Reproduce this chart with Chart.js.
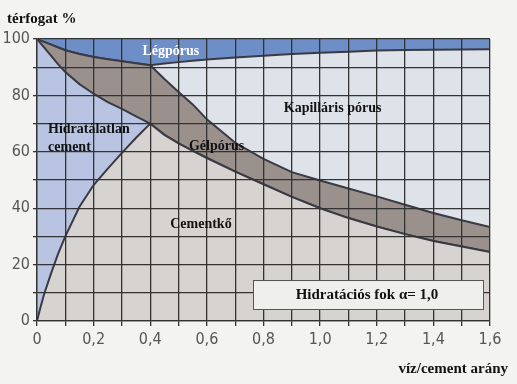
<!DOCTYPE html>
<html>
<head>
<meta charset="utf-8">
<script src="https://cdn.jsdelivr.net/npm/chart.js@4/dist/chart.umd.min.js"></script>
<style>
  html, body { margin: 0; padding: 0; background: #f3f3f1; }
  #wrap { width: 517px; height: 384px; }
</style>
</head>
<body>
<div id="wrap"><canvas id="myChart" width="517" height="384"></canvas></div>
<script>
// víz/cement arány
const xs = [0, 0.01, 0.025, 0.05, 0.075, 0.1, 0.15, 0.2, 0.25, 0.3, 0.35, 0.4, 0.45, 0.5, 0.55, 0.6, 0.7, 0.8, 0.9, 1.0, 1.1, 1.2, 1.3, 1.4, 1.5, 1.6];

// boundaries (térfogat %)
const cementkoTop   = [0, 4, 9.5, 17, 24, 30, 40.5, 48.2, 54, 59.6, 65, 70, 66, 63, 60.3, 57.8, 53, 48.5, 44, 40, 36.5, 33.5, 30.8, 28.4, 26.4, 24.5];
const hidratTop     = [100, 98.8, 97, 94, 91, 88.3, 84, 80.6, 77.6, 75.2, 72.6, 70, 66, 63, 60.3, 57.8, 53, 48.5, 44, 40, 36.5, 33.5, 30.8, 28.4, 26.4, 24.5];
const gelTop        = [100, 99.5, 99, 98, 97, 96, 94.7, 93.6, 92.8, 92.1, 91.4, 90.7, 85.8, 81.2, 76.8, 71.5, 63.2, 57.5, 52.8, 49.8, 47, 44.2, 41.2, 38.3, 35.7, 33.3];
const kapillarisTop = [100, 99.5, 99, 98, 97, 96, 94.7, 93.6, 92.8, 92.1, 91.4, 90.7, 91.3, 91.8, 92.3, 92.7, 93.4, 94.1, 94.7, 95.1, 95.5, 95.9, 96.1, 96.2, 96.3, 96.4];
const legporusTop   = [100, 100, 100, 100, 100, 100, 100, 100, 100, 100, 100, 100, 100, 100, 100, 100, 100, 100, 100, 100, 100, 100, 100, 100, 100, 100];

const yTicks = [0, 20, 40, 60, 80, 100];

const toPoints = function (arr) {
  return arr.map((v, i) => ({ x: xs[i], y: v }));
};

const lineColor = "#3a3a44";
const tickFont = { family: "'Liberation Sans Narrow', 'DejaVu Sans Condensed', 'Arial Narrow', 'Liberation Sans', sans-serif", size: 16 };

const labelPlugin = {
  id: "labels",
  afterDraw(chart) {
    const ctx = chart.ctx;
    const xS = chart.scales.x;
    const yS = chart.scales.y;
    const px = (v) => xS.getPixelForValue(v);
    const py = (v) => yS.getPixelForValue(v);
    ctx.save();
    ctx.textBaseline = "middle";

    // axis titles
    ctx.fillStyle = "#111";
    ctx.font = "bold 15px 'Liberation Serif', 'DejaVu Serif', serif";
    ctx.textAlign = "left";
    ctx.fillText("térfogat %", 7, 19);
    ctx.textAlign = "right";
    ctx.fillText("víz/cement arány", 508, 369);

    // region names
    ctx.font = "bold 14px 'Liberation Serif', 'DejaVu Serif', serif";
    ctx.textAlign = "center";
    ctx.fillStyle = "#ffffff";
    ctx.fillText("Légpórus", px(0.473), py(95.6));
    ctx.fillStyle = "#111";
    ctx.fillText("Kapilláris pórus", px(1.044), py(75.5));
    ctx.fillText("Gélpórus", px(0.634), py(62));
    ctx.fillText("Cementkő", px(0.579), py(34.4));
    ctx.textAlign = "left";
    ctx.fillText("Hidratálatlan", px(0.039), py(68));
    ctx.fillText("cement", px(0.039), py(61.7));

    // note box
    ctx.fillStyle = "#efefed";
    ctx.fillRect(253.5, 280.5, 230, 29);
    ctx.strokeStyle = "#555";
    ctx.lineWidth = 1;
    ctx.strokeRect(253.5, 280.5, 230, 29);
    ctx.fillStyle = "#111";
    ctx.font = "bold 15px 'Liberation Serif', 'DejaVu Serif', serif";
    ctx.textAlign = "center";
    ctx.fillText("Hidratációs fok α= 1,0", 367, 295);
    ctx.restore();
  },
};

const areaSet = function (label, arr, fill, color, border) {
  return {
    label: label,
    data: toPoints(arr),
    fill: fill,
    backgroundColor: color,
    borderColor: border ? lineColor : "rgba(0,0,0,0)",
    borderWidth: border ? 2 : 0,
    tension: 0,
    pointRadius: 0,
  };
};

const ctx = document.getElementById("myChart").getContext("2d");
const myChart = new Chart(ctx, {
  type: "line",
  data: {
    datasets: [
      areaSet("Cementkő", cementkoTop, "origin", "#d7d3d0", true),
      areaSet("Hidratálatlan cement", hidratTop, "-1", "#b8c4e1", true),
      areaSet("Gélpórus", gelTop, "-1", "#9b918c", true),
      areaSet("Kapilláris pórus", kapillarisTop, "-1", "#dee2e9", true),
      areaSet("Légpórus", legporusTop, "-1", "#6d8ec7", false),
    ],
  },
  options: {
    responsive: false,
    animation: false,
    layout: { padding: { top: 39, right: 27, left: 0, bottom: 0 } },
    plugins: {
      legend: { display: false },
      tooltip: { enabled: false },
    },
    scales: {
      x: {
        type: "linear",
        min: 0,
        max: 1.6,
        afterFit: (scale) => { scale.height = 63; },
        ticks: {
          stepSize: 0.1,
          autoSkip: false,
          maxRotation: 0,
          padding: 4,
          color: "#555",
          font: tickFont,
          callback: function (value) {
            const k = Math.round(value * 10);
            if (k % 2 !== 0) return "";
            return (k / 10).toFixed(k === 0 ? 0 : 1).replace(".", ",");
          },
        },
        grid: { color: "#333", lineWidth: 1.3, tickLength: 5, z: 1 },
        border: { color: "#333", width: 1.3, z: 1 },
      },
      y: {
        min: 0,
        max: 100,
        afterFit: (scale) => { scale.width = 37; },
        ticks: {
          stepSize: 10,
          autoSkip: false,
          padding: 3,
          color: "#555",
          font: tickFont,
          callback: function (value) {
            return yTicks.includes(value) ? String(value) : "";
          },
        },
        grid: { color: "#333", lineWidth: 1.3, tickLength: 4, z: 1 },
        border: { color: "#333", width: 1.3, z: 1 },
      },
    },
  },
  plugins: [labelPlugin],
});
</script>
</body>
</html>
